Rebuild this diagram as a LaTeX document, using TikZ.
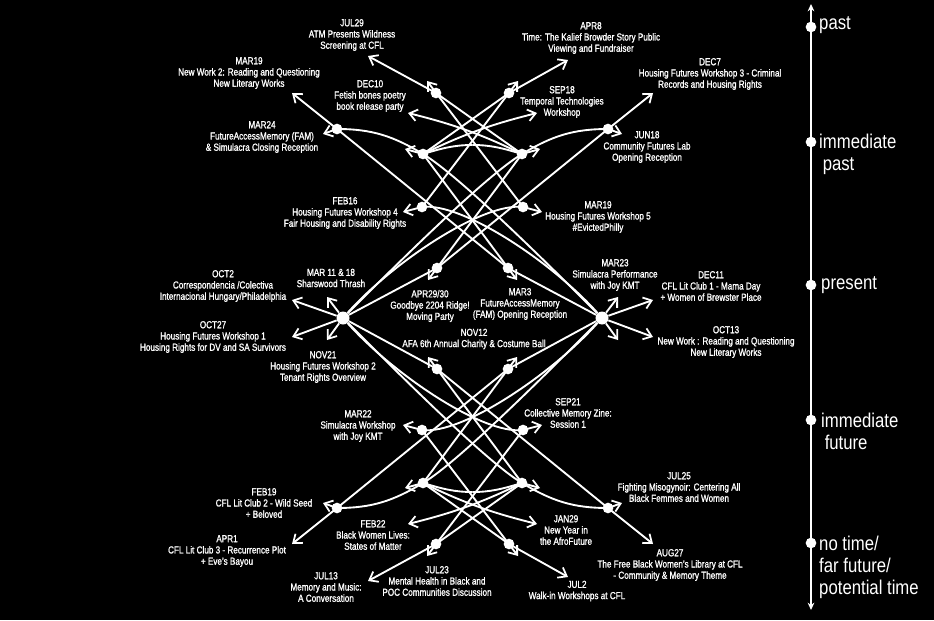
\documentclass[tikz,border=0pt]{standalone}
\usepackage{fontspec}
\setmainfont{Liberation Sans}[FakeStretch=0.8,FakeBold=1.2]
\newfontfamily\axisfont{Liberation Sans}[FakeStretch=0.84]
\usetikzlibrary{arrows.meta}
\newcommand{\evlabel}[3]{\node[evtext] (#1) at #2 {#3};}
\newcommand{\axlabel}[3]{\node[axtext] (#1) at #2 {#3};}
% one quarter of the web, mirrored about the centre (472.5,318.5)
% #1 xscale, #2 yscale, #3 tag, #4 near hub, #5 far hub, #6 end of the outer top arrow
\newcommand{\webquarter}[6]{%
  \begin{scope}[shift={(472.5,318.5)},xscale=#1,yscale=#2,shift={(-472.5,-318.5)}]
    \coordinate (d1n#3) at (436,93);
    \coordinate (d2n#3) at (337,129);
    \coordinate (d3n#3) at (423,154); \coordinate (d3f#3) at (522,154);
    \coordinate (d4n#3) at (422,207); \coordinate (d4f#3) at (523,207);
    \coordinate (d5n#3) at (437,268); \coordinate (d5f#3) at (508,268);
    \coordinate (mid#3) at (472.5,145);
    % free ends of the arrows
    \coordinate (eA#3) at #6;        \coordinate (eB#3) at (427,81);
    \coordinate (eC#3) at (408,113); \coordinate (eD#3) at (405,149);
    \coordinate (eE#3) at (323,134); \coordinate (eF#3) at (292,93);
    \coordinate (eG#3) at (403,212); \coordinate (eH#3) at (517,280);
    \coordinate (eI#3) at (292,300); \coordinate (eJ#3) at (327,297);
    \draw[arr] (d1n#3) -- (eA#3);
    \draw[link] (d1n#3) -- (d3f#3);
    \draw[arr] (d4f#3) -- (eB#3);
    \draw[arr] (d3f#3) .. controls +(-45,-22) and +(40,10) .. (eC#3);
    \draw[arr] (mid#3) .. controls +(-18,0) and +(20,-6) .. (d3n#3) -- (eD#3);
    \draw[arr] (#5) .. controls +(-60,-60) and +(35,21) .. (d3n#3) .. controls +(-30,-18) and +(35,0) .. (d2n#3) -- (eE#3);
    \draw[arr] (#5) .. controls +(-50,-56) and +(40,-5) .. (d4n#3) -- (eG#3);
    \draw[arr] (d2n#3) -- (eF#3);
    \draw[link] (d2n#3) -- (d5f#3);
    \draw[arr] (d3n#3) -- (eH#3);
    \draw[link] (d5n#3) -- (#4);
    \draw[arr] (#4) -- (eI#3);
    \draw[arr] (#4) -- (eJ#3);
    \node[evdot] (p1#3) at (d1n#3) {};
    \node[evdot] (p2#3) at (d2n#3) {};
    \node[evdot] (p3#3) at (d3n#3) {};
    \node[evdot] (p4#3) at (d4n#3) {};
    \node[evdot] (p5#3) at (d5n#3) {};
  \end{scope}}

\begin{document}
\begin{tikzpicture}[x=0.03cm,y=-0.03cm,
    link/.style={white,line width=1.6pt},
    arr/.style={link,-{Straight Barb[length=2.3mm,width=3.5mm,line width=1.5pt]}},
    evdot/.style={circle,fill=white,inner sep=0pt,minimum size=3.2mm},
    hubdot/.style={circle,fill=white,inner sep=0pt,minimum size=3.9mm},
    evtext/.style={text=white,align=center,inner sep=0pt,font=\fontsize{8.7}{9.6}\selectfont},
    axtext/.style={text=white,align=left,anchor=west,inner sep=0pt,font=\axisfont\fontsize{17}{18.8}\selectfont}]
  \useasboundingbox (0,0) rectangle (934,620);
  \fill[black] (0,0) rectangle (934,620);
  \node[hubdot] (hubL) at (343,318) {};
  \node[hubdot] (hubR) at (602,318) {};
  \webquarter{1}{1}{a}{hubL}{hubR}{(368,56)}
  \webquarter{-1}{1}{b}{hubR}{hubL}{(377,60)}
  \webquarter{1}{-1}{c}{hubL}{hubR}{(368,56)}
  \webquarter{-1}{-1}{d}{hubR}{hubL}{(377,60)}

  % events
  \evlabel{jul29}{(352,35)}{JUL29\\ATM Presents Wildness\\Screening at CFL}
  \evlabel{apr8}{(591,38)}{APR8\\Time: The Kalief Browder Story Public\\Viewing and Fundraiser}
  \evlabel{mar19nw}{(249,73)}{MAR19\\New Work 2: Reading and Questioning\\New Literary Works}
  \evlabel{dec7}{(710,74)}{DEC7\\Housing Futures Workshop 3 - Criminal\\Records and Housing Rights}
  \evlabel{dec10}{(370,96)}{DEC10\\Fetish bones poetry\\book release party}
  \evlabel{sep18}{(562,102)}{SEP18\\Temporal Technologies\\Workshop}
  \evlabel{mar24}{(262,137)}{MAR24\\FutureAccessMemory (FAM)\\\& Simulacra Closing Reception}
  \evlabel{jun18}{(647,147)}{JUN18\\Community Futures Lab\\Opening Reception}
  \evlabel{feb16}{(345,213)}{FEB16\\Housing Futures Workshop 4\\Fair Housing and Disability Rights}
  \evlabel{mar19hf}{(598,217)}{MAR19\\Housing Futures Workshop 5\\\#EvictedPhilly}
  \evlabel{oct2}{(223,286)}{OCT2\\Correspondencia /Colectiva\\Internacional Hungary/Philadelphia}
  \evlabel{mar1118}{(331,278)}{MAR 11 \& 18\\Sharswood Thrash}
  \evlabel{apr2930}{(430,306)}{APR29/30\\Goodbye 2204 Ridge!\\Moving Party}
  \evlabel{mar3}{(520,304)}{MAR3\\FutureAccessMemory\\(FAM) Opening Reception}
  \evlabel{mar23}{(615,275)}{MAR23\\Simulacra Performance\\with Joy KMT}
  \evlabel{dec11}{(711,286)}{DEC11\\CFL Lit Club 1 - Mama Day\\+ Women of Brewster Place}
  \evlabel{oct27}{(213,337)}{OCT27\\Housing Futures Workshop 1\\Housing Rights for DV and SA Survivors}
  \evlabel{nov12}{(474,339)}{NOV12\\AFA 6th Annual Charity \& Costume Ball}
  \evlabel{oct13}{(726,342)}{OCT13\\New Work : Reading and Questioning\\New Literary Works}
  \evlabel{nov21}{(323,367)}{NOV21\\Housing Futures Workshop 2\\Tenant Rights Overview}
  \evlabel{sep21}{(568,413)}{SEP21\\Collective Memory Zine:\\Session 1}
  \evlabel{mar22}{(358,426)}{MAR22\\Simulacra Workshop\\with Joy KMT}
  \evlabel{jul25}{(679,487)}{JUL25\\Fighting Misogynoir: Centering All\\Black Femmes and Women}
  \evlabel{feb19}{(264,503)}{FEB19\\CFL Lit Club 2 - Wild Seed\\+ Beloved}
  \evlabel{jan29}{(566,530)}{JAN29\\New Year in\\the AfroFuture}
  \evlabel{feb22}{(373,535)}{FEB22\\Black Women Lives:\\States of Matter}
  \evlabel{apr1}{(227,551)}{APR1\\CFL Lit Club 3 - Recurrence Plot\\+ Eve's Bayou}
  \evlabel{aug27}{(670,565)}{AUG27\\The Free Black Women's Library at CFL\\- Community \& Memory Theme}
  \evlabel{jul23}{(437,581)}{JUL23\\Mental Health in Black and\\POC Communities Discussion}
  \evlabel{jul13}{(326,587)}{JUL13\\Memory and Music:\\A Conversation}
  \evlabel{jul2}{(577,591)}{JUL2\\Walk-in Workshops at CFL}

  % time axis
  \coordinate (axtop) at (811,4);
  \coordinate (axbot) at (811,610);
  \draw[white,line width=1.5pt,{Stealth[length=2.2mm,width=2mm]}-{Stealth[length=2.2mm,width=2mm]}] (axtop) -- (axbot);
  \node[evdot] (tpast) at (811,27) {};
  \node[evdot] (timm) at (811,142) {};
  \node[evdot] (tnow) at (811,285) {};
  \node[evdot] (tnext) at (811,420) {};
  \node[evdot] (tnone) at (811,543) {};
  \axlabel{lpast}{(819,25)}{past}
  \axlabel{limm}{(819,154)}{immediate\\\hspace*{3pt}past}
  \axlabel{lnow}{(821,285)}{present}
  \axlabel{lnext}{(821,431)}{immediate\\\hspace*{3pt}future}
  \axlabel{lnone}{(819,567)}{no time/\\far future/\\potential time}
\end{tikzpicture}
\end{document}
